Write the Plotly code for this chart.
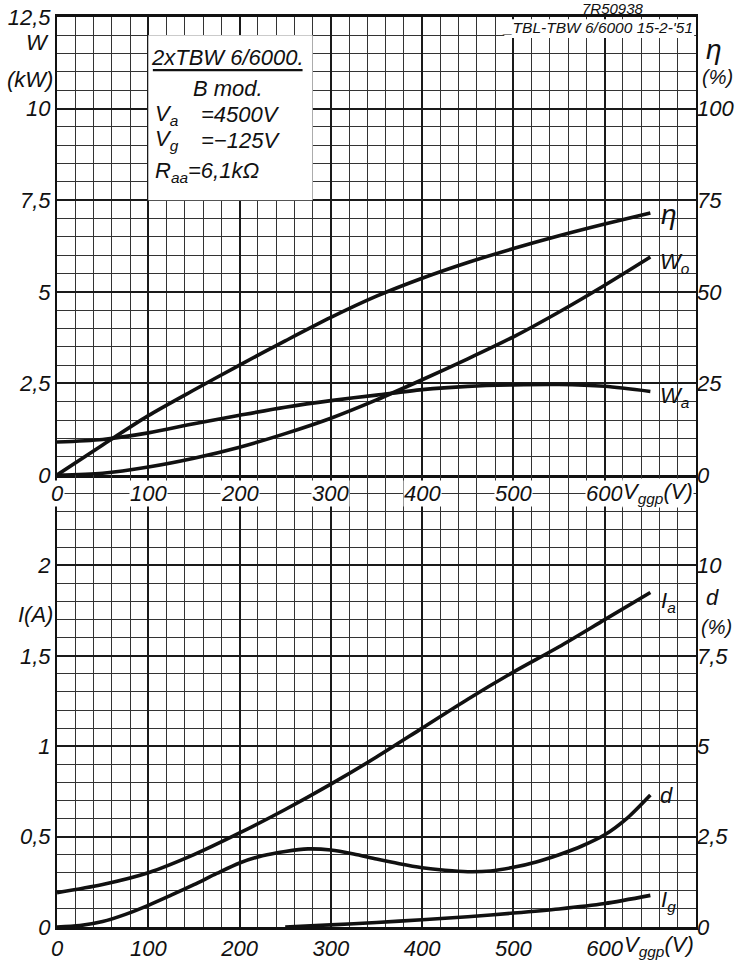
import plotly.graph_objects as go

# ---------------- data ----------------
V = [0, 50, 100, 150, 200, 250, 300, 350, 400, 450, 500, 550, 600, 650]          # V_ggp (V)
eta = [0, 8.2, 16.2, 23.2, 30, 36.6, 43, 48.8, 53.7, 58, 61.8, 65.3, 68.5, 71.5]  # efficiency (%)
Wo = [0, 0.05, 0.22, 0.46, 0.76, 1.13, 1.55, 2.05, 2.6, 3.17, 3.77, 4.45, 5.18, 5.95]  # output power (kW)
Wa = [0.9, 0.97, 1.15, 1.4, 1.63, 1.85, 2.03, 2.18, 2.33, 2.42, 2.46, 2.47, 2.42, 2.28]  # anode dissipation (kW)
Ia = [0.19, 0.235, 0.3, 0.4, 0.52, 0.65, 0.79, 0.94, 1.1, 1.26, 1.41, 1.55, 1.7, 1.85]  # anode current (A)
V_d = [0, 25, 50, 75, 100, 125, 150, 175, 200, 225, 250, 275, 300, 325, 350, 375, 400,
       425, 450, 475, 500, 525, 550, 575, 600, 625, 650]
d = [0, 0.04, 0.15, 0.35, 0.6, 0.88, 1.17, 1.48, 1.77, 1.97, 2.09, 2.16, 2.13, 2.02, 1.88,
     1.75, 1.64, 1.57, 1.53, 1.55, 1.65, 1.8, 2.0, 2.24, 2.55, 3.02, 3.65]          # distortion (%)
V_g = [250, 300, 350, 400, 450, 500, 550, 600, 650]
Ig = [0, 0.012, 0.025, 0.04, 0.057, 0.077, 0.1, 0.13, 0.175]                         # grid current (A)

x_ticks = [0, 100, 200, 300, 400, 500, 600]
w_ticks = [0, 2.5, 5, 7.5, 10, 12.5]
w_text = ["0", "2,5", "5", "7,5", "10", "12,5"]
eta_ticks = [0, 25, 50, 75, 100]
i_ticks = [0, 0.5, 1, 1.5, 2]
i_text = ["0", "0,5", "1", "1,5", "2"]
d_ticks = [0, 2.5, 5, 7.5, 10]
d_text = ["0", "2,5", "5", "7,5", "10"]

FONT = "Liberation Sans, Arial, sans-serif"
INK = "#111111"
SPLIT = (927 - 475) / 910

fig = go.Figure()
line = dict(color=INK, width=3.6, shape="spline", smoothing=0.8)
fig.add_trace(go.Scatter(x=V, y=eta, xaxis="x", yaxis="y2", mode="lines", line=line))
fig.add_trace(go.Scatter(x=V, y=Wo, xaxis="x", yaxis="y", mode="lines", line=line))
fig.add_trace(go.Scatter(x=V, y=Wa, xaxis="x", yaxis="y", mode="lines", line=line))
fig.add_trace(go.Scatter(x=V, y=Ia, xaxis="x2", yaxis="y3", mode="lines", line=line))
fig.add_trace(go.Scatter(x=V_d, y=d, xaxis="x2", yaxis="y4", mode="lines", line=line))
fig.add_trace(go.Scatter(x=V_g, y=Ig, xaxis="x2", yaxis="y3", mode="lines", line=line))

tickfont = dict(family=FONT, size=22, color=INK, style="italic")
gridmaj = dict(showgrid=True, gridcolor="#1a1a1a", gridwidth=1.5)
minor_x = dict(dtick=20, tick0=0, showgrid=True, gridcolor="#333333", gridwidth=1)

common_x = dict(range=[0, 700], tickvals=x_ticks, ticks="", showline=True, linecolor=INK,
                linewidth=2.6, zeroline=False, minor=minor_x, tickfont=tickfont,
                automargin=False, **gridmaj)

fig.update_layout(
    width=735, height=963,
    margin=dict(l=57, r=39, t=17, b=36),
    paper_bgcolor="white", plot_bgcolor="white",
    showlegend=False,
    font=dict(family=FONT, size=22, color=INK, style="italic"),
    xaxis=dict(domain=[0, 1], anchor="y", showticklabels=False, mirror=True, **common_x),
    xaxis2=dict(domain=[0, 1], anchor="y3", showticklabels=True, mirror=False,
                ticktext=[str(v) for v in x_ticks], **common_x),
    yaxis=dict(domain=[SPLIT, 1], range=[0, 12.5], tickvals=w_ticks, ticktext=w_text,
               ticks="", showline=True, mirror=True, linecolor=INK, linewidth=2.2, zeroline=False,
               minor=dict(dtick=0.5, tick0=0, showgrid=True, gridcolor="#333333", gridwidth=1),
               tickfont=tickfont, automargin=False, **gridmaj),
    yaxis2=dict(overlaying="y", anchor="x", side="right", range=[0, 125], tickvals=eta_ticks,
                ticktext=[str(v) for v in eta_ticks], showgrid=False, zeroline=False,
                ticks="", showline=False, tickfont=tickfont, automargin=False),
    yaxis3=dict(domain=[0, SPLIT], anchor="x2", range=[0, 2.5], tickvals=i_ticks, ticktext=i_text,
                ticks="", showline=True, mirror=True, linecolor=INK, linewidth=2.2, zeroline=False,
                minor=dict(dtick=0.1, tick0=0, showgrid=True, gridcolor="#333333", gridwidth=1),
                tickfont=tickfont, automargin=False, **gridmaj),
    yaxis4=dict(overlaying="y3", anchor="x2", side="right", range=[0, 12.5], tickvals=d_ticks,
                ticktext=d_text, showgrid=False, zeroline=False, ticks="", showline=False,
                tickfont=tickfont, automargin=False),
)

# white panels (info box and header strip) hiding the grid
fig.add_shape(type="rect", xref="x", yref="y", x0=100, x1=280, y0=7.5, y1=12.0,
              fillcolor="white", line=dict(width=0), layer="between")
fig.add_shape(type="rect", xref="x", yref="y", x0=490, x1=698, y0=11.93, y1=12.44,
              fillcolor="white", line=dict(width=0), layer="between")
# underline of the tube type
fig.add_shape(type="line", xref="x", yref="y", x0=105, x1=269, y0=11.05, y1=11.05,
              line=dict(color=INK, width=2.2))

ann = []


def A(text, x, y, xref="x", yref="y", size=22, xanchor="center", yanchor="middle", bg=None, **kw):
    d_ = dict(text=text, x=x, y=y, xref=xref, yref=yref, showarrow=False,
              font=dict(family=FONT, size=size, color=INK, style="italic"),
              xanchor=xanchor, yanchor=yanchor)
    if bg:
        d_.update(bgcolor=bg, borderpad=0)
    d_.update(kw)
    ann.append(d_)


# info box
A("2xTBW 6/6000.", 187, 11.4, size=22)
A("B mod.", 187, 10.56, size=22)
A("V<sub>a</sub>", 105, 9.83, xanchor="left", size=22)
A("=4500V", 156, 9.83, xanchor="left", size=22)
A("V<sub>g</sub>", 105, 9.14, xanchor="left", size=22)
A("=\u2212125V", 156, 9.14, xanchor="left", size=22)
A("R<sub>aa</sub>=6,1k\u03a9", 105, 8.27, xanchor="left", size=22)

# header
A("7R50938", 640 / 735, 1, xref="paper", yref="paper", size=15, yanchor="bottom", yshift=-2)
A("_TBL-TBW 6/6000 15-2-'51", 699, 12.22, xanchor="right", size=15.5)

# axis captions
A("W", 0, 11.8, xref="paper", xanchor="right", xshift=-6)
A("(kW)", 0, 10.8, xref="paper", xanchor="right", xshift=-2)
A("\u03b7", 1, 11.6, xref="paper", xanchor="left", xshift=8, size=28)
A("(%)", 1, 10.85, xref="paper", xanchor="left", xshift=4, size=20)
A("I(A)", 0, 1.73, xref="paper", yref="y3", xanchor="right", xshift=-2)
A("d", 1, 1.82, xref="paper", yref="y3", xanchor="left", xshift=8)
A("(%)", 1, 1.66, xref="paper", yref="y3", xanchor="left", xshift=3, size=20)

# x tick labels of the upper panel, sitting in the band between the panels
for v in x_ticks:
    A(str(v), v, 2.4, xref="x2", yref="y3", bg="white")
A("V<sub>ggp</sub>(V)", 619, 2.4, xref="x2", yref="y3", xanchor="left", bg="white")
# axis caption under the lower panel
A("V<sub>ggp</sub>(V)", 619, -19 / 910, xref="x2", yref="paper", xanchor="left")

# curve labels
A("\u03b7", 659, 7.1, xanchor="left", size=28)
A("W<sub>o</sub>", 658, 5.79, xanchor="left")
A("W<sub>a</sub>", 658, 2.13, xanchor="left")
A("I<sub>a</sub>", 660, 1.80, xref="x2", yref="y3", xanchor="left")
A("d", 658, 0.73, xref="x2", yref="y3", xanchor="left")
A("I<sub>g</sub>", 660, 0.144, xref="x2", yref="y3", xanchor="left")

fig.update_layout(annotations=ann)
fig.write_html("out.html")
